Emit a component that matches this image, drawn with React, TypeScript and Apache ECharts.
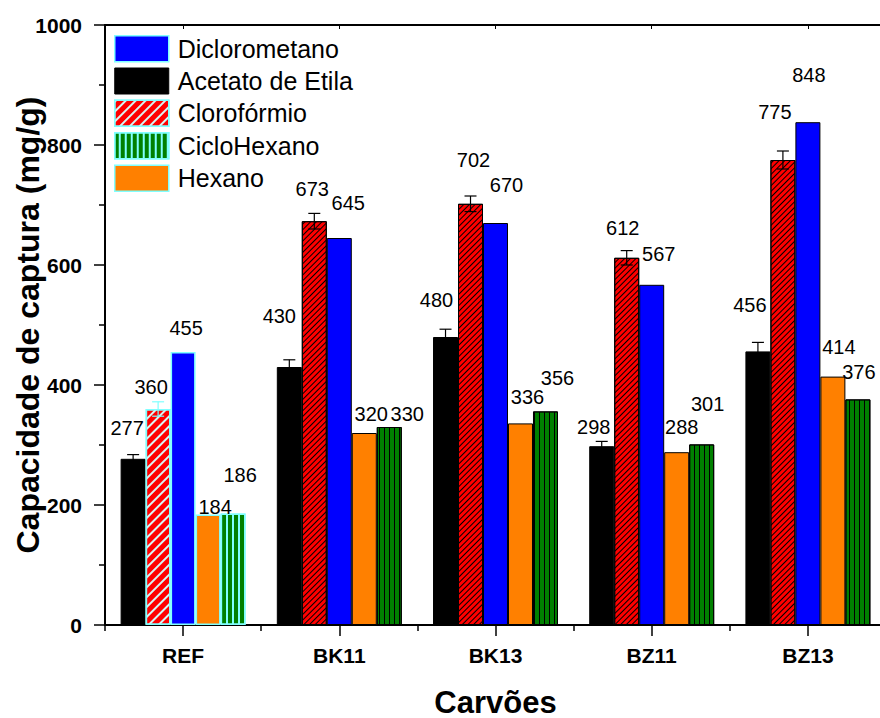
import React, { useEffect, useRef } from "react";
import * as echarts from "echarts";

const categories = ["REF", "BK11", "BK13", "BZ11", "BZ13"];
const acetato = [277, 430, 480, 298, 456];
const cloroformio = [360, 673, 702, 612, 775];
const diclorometano = [455, 645, 670, 567, 838];
const hexano = [184, 320, 336, 288, 414];
const cicloHexano = [186, 330, 356, 301, 376];
const acetatoLabels = ["277", "430", "480", "298", "456"];
const cloroformioLabels = ["360", "673", "702", "612", "775"];
const diclorometanoLabels = ["455", "645", "670", "567", "848"];
const hexanoLabels = ["184", "320", "336", "288", "414"];
const cicloHexanoLabels = ["186", "330", "356", "301", "376"];
const acetatoErr = [7, 12, 13, 8, 15];
const cloroformioErr = [12, 13, 13, 12, 15];
const legendOrder = ["Diclorometano", "Acetato de Etila", "Clorofórmio", "CicloHexano", "Hexano"];
const yTicks = { min: 0, max: 1000, interval: 200 };

// label nudges (style only)
const acetatoOff = [[-6, -21], [-10, -41], [-9, -27], [-8, -9], [-8, -36]];
const cloroOff = [[-7, -12], [-2, -22], [3, -34], [-4, -20], [-8, -38]];
const dicloroOff = [[3, -14], [9, -25], [11, -28], [7, -21], [1, -37]];
const hexanoOff = [[7, 2], [7, -9], [7, -16], [5, -15], [6, -20]];
const cicloOff = [[7, -28], [18, -3], [12, -23], [6, -30], [1, -17]];

const FONT = '"Liberation Sans", Arial, sans-serif';
const CYAN = "#80ffff";

const hatchDark = { symbol: "rect", symbolSize: 1, dashArrayX: [1, 0], dashArrayY: [1, 3], rotation: -Math.PI / 4, color: "#000" };
const hatchLight = { symbol: "rect", symbolSize: 1, dashArrayX: [1, 0], dashArrayY: [1.5, 5], rotation: -Math.PI / 4, color: "#d8f4f4" };
const stripeDark = { symbol: "rect", symbolSize: 1, dashArrayX: [1, 0], dashArrayY: [1, 4], rotation: Math.PI / 2, color: "#000" };
const stripeLight = { symbol: "rect", symbolSize: 1, dashArrayX: [1, 0], dashArrayY: [1.5, 4], rotation: Math.PI / 2, color: CYAN };

function barSeries(name: string, values: number[], labels: string[], offs: number[][], color: string, decal: any, refStyle: any) {
  return {
    type: "bar",
    name,
    xAxisIndex: 0,
    barGap: "0%",
    barCategoryGap: "20%",
    itemStyle: { color, borderColor: "#000", borderWidth: 1, decal: decal || undefined },
    label: {
      show: true,
      position: "top",
      distance: 0,
      fontSize: 20,
      fontFamily: FONT,
      color: "#000",
      formatter: (p: any) => labels[p.dataIndex],
    },
    data: values.map((v, i) => ({
      value: v,
      label: { offset: offs[i] },
      itemStyle: i === 0 ? refStyle : undefined,
    })),
  };
}

function errSeries(values: number[], errs: number[], pos: number, refColor: string) {
  return {
    type: "custom",
    xAxisIndex: 0,
    yAxisIndex: 0,
    z: 10,
    silent: true,
    encode: { x: 0, y: 1 },
    data: values.map((v, i) => [i, v, errs[i]]),
    renderItem: (params: any, api: any) => {
      const idx = api.value(0);
      const v = api.value(1);
      const e = api.value(2);
      const c = api.coord([idx, v]);
      const band = api.size([1, 0])[0];
      const bw = (band * 0.8) / 5;
      const x = c[0] + (pos - 2) * bw;
      const yT = api.coord([idx, v + e])[1];
      const yB = api.coord([idx, v - e])[1];
      const color = idx === 0 ? refColor : "#000";
      const style = { stroke: color, lineWidth: 1.2 };
      const hw = 6;
      return {
        type: "group",
        children: [
          { type: "line", shape: { x1: x, y1: yT, x2: x, y2: yB }, style },
          { type: "line", shape: { x1: x - hw, y1: yT, x2: x + hw, y2: yT }, style },
          { type: "line", shape: { x1: x - hw, y1: yB, x2: x + hw, y2: yB }, style },
        ],
      };
    },
  };
}

export default function App() {
  const ref = useRef<HTMLDivElement>(null);
  useEffect(() => {
    if (!ref.current) return;
    const chart = echarts.init(ref.current, null, { renderer: "svg" });
    const axisLineStyle = { color: "#000", width: 2 };
    const option: any = {
      animation: false,
      backgroundColor: "#fff",
      textStyle: { fontFamily: FONT },
      grid: { left: 105, top: 25, width: 781, height: 600, outerBoundsMode: "none", containLabel: false },
      legend: {
        orient: "vertical",
        left: 114,
        top: 35,
        padding: 0,
        itemWidth: 54,
        itemHeight: 26,
        itemGap: 5,
        icon: "rect",
        textStyle: { fontSize: 25, fontFamily: FONT, color: "#000", padding: [0, 0, 0, 4] },
        data: [
          { name: "Diclorometano", itemStyle: { borderColor: CYAN, borderWidth: 1.5 } },
          { name: "Acetato de Etila", itemStyle: { borderColor: "#000", borderWidth: 1 } },
          { name: "Clorofórmio", itemStyle: { borderColor: CYAN, borderWidth: 1.5, decal: hatchLight } },
          { name: "CicloHexano", itemStyle: { borderColor: CYAN, borderWidth: 1.5, decal: stripeLight } },
          { name: "Hexano", itemStyle: { borderColor: CYAN, borderWidth: 1.5 } },
        ].filter((d) => legendOrder.includes(d.name)),
      },
      xAxis: [
        {
          type: "category",
          data: categories,
          position: "bottom",
          axisLine: { show: true, lineStyle: axisLineStyle },
          axisTick: { show: true, length: 6, lineStyle: { color: "#000", width: 1.5 } },
          axisLabel: { fontSize: 21, fontWeight: "bold", color: "#000", margin: 20, fontFamily: FONT },
          name: "Carvões",
          nameLocation: "middle",
          nameGap: 77,
          nameMoveOverlap: false,
          nameTextStyle: { fontSize: 31, fontWeight: "bold", color: "#000", fontFamily: FONT, verticalAlign: "middle" },
        },
        {
          type: "category",
          data: categories,
          position: "bottom",
          axisLine: { show: false },
          axisTick: { show: true, alignWithLabel: true, length: 11, lineStyle: { color: "#000", width: 1.5 } },
          axisLabel: { show: false },
        },
        {
          type: "category",
          data: categories,
          position: "top",
          axisLine: { show: true, lineStyle: axisLineStyle },
          axisTick: { show: true, alignWithLabel: true, inside: true, length: 4, lineStyle: { color: "#000", width: 1 } },
          axisLabel: { show: false },
        },
      ],
      yAxis: {
        type: "value",
        min: yTicks.min,
        max: yTicks.max,
        interval: yTicks.interval,
        axisLine: { show: true, lineStyle: axisLineStyle },
        axisTick: { show: true, length: 11, lineStyle: { color: "#000", width: 1.5 } },
        minorTick: { show: true, splitNumber: 2, length: 6, lineStyle: { color: "#000", width: 1.5 } },
        splitLine: { show: false },
        axisLabel: { fontSize: 21, fontWeight: "bold", color: "#000", margin: 23, fontFamily: FONT, formatter: (v: number) => String(v) },
        name: "Capacidade de captura (mg/g)",
        nameLocation: "middle",
        nameGap: 77,
        nameMoveOverlap: false,
        nameTextStyle: { fontSize: 32, fontWeight: "bold", color: "#000", fontFamily: FONT, verticalAlign: "middle" },
      },
      series: [
        barSeries("Acetato de Etila", acetato, acetatoLabels, acetatoOff, "#000", null, { borderColor: "#000" }),
        barSeries("Clorofórmio", cloroformio, cloroformioLabels, cloroOff, "#ff0000", hatchDark, { borderColor: CYAN, borderWidth: 1.5, decal: hatchLight }),
        barSeries("Diclorometano", diclorometano, diclorometanoLabels, dicloroOff, "#0000ff", null, { borderColor: CYAN, borderWidth: 1.5 }),
        barSeries("Hexano", hexano, hexanoLabels, hexanoOff, "#ff8000", null, { borderColor: CYAN, borderWidth: 1.5 }),
        barSeries("CicloHexano", cicloHexano, cicloHexanoLabels, cicloOff, "#008000", stripeDark, { borderColor: CYAN, borderWidth: 1.5, decal: stripeLight }),
        errSeries(acetato, acetatoErr, 0, "#000"),
        errSeries(cloroformio, cloroformioErr, 1, CYAN),
      ],
    };
    chart.setOption(option);
    return () => chart.dispose();
  }, []);
  return <div ref={ref} style={{ position: "absolute", left: 0, top: 0, width: 880, height: 718 }} />;
}
